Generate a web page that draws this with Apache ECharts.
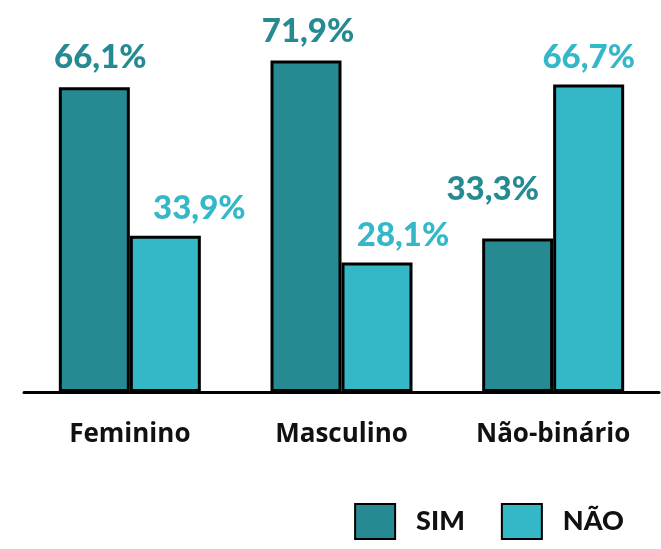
<!DOCTYPE html>
<html>
<head>
<meta charset="utf-8">
<script src="https://cdn.jsdelivr.net/npm/echarts@6/dist/echarts.min.js"></script>
<style>
  html, body { margin: 0; padding: 0; background: #fff; }
  #chart { width: 661px; height: 549px; }
</style>
</head>
<body>
<div id="chart"></div>
<script>
var categories = ['Feminino', 'Masculino', 'Não-binário'];
var simValues = [66.1, 71.9, 33.3];
var naoValues = [33.9, 28.1, 66.7];
// deslocamento dos rótulos em relação ao centro da barra
var simOffsets = [[6, 0], [2, 0], [-25, -20]];
var naoOffsets = [[34, 0], [26, 0], [0, 0]];

var chart = echarts.init(document.getElementById('chart'));

function fmt(v) {
  return v.toFixed(1).replace('.', ',') + '%';
}

function buildData(values, offsets) {
  return values.map(function (v, i) {
    return { value: v, label: { offset: offsets[i] } };
  });
}

var labelFont = 'Lato';

var option = {
  animation: false,
  grid: { left: 24, right: 2, top: 0, bottom: 157 },
  legend: {
    data: ['SIM', 'NÃO'],
    icon: 'rect',
    right: 32,
    bottom: 4,
    itemWidth: 40,
    itemHeight: 35,
    itemGap: 36,
    textStyle: { fontFamily: labelFont, fontWeight: 900, fontSize: 27, color: '#111', padding: [0, 0, 0, 16] }
  },
  xAxis: {
    type: 'category',
    data: categories,
    axisLine: { lineStyle: { color: '#000', width: 3 } },
    axisTick: { show: false },
    axisLabel: {
      interval: 0,
      margin: 30,
      color: '#111',
      fontFamily: 'Open Sans',
      fontWeight: 'bold',
      fontSize: 26
    }
  },
  yAxis: {
    type: 'value',
    min: 0,
    max: 85,
    show: false
  },
  series: [
    {
      name: 'SIM',
      type: 'bar',
      barWidth: 71,
      barGap: '0%',
      data: buildData(simValues, simOffsets),
      itemStyle: { color: '#268a93', borderColor: '#000', borderWidth: 3 },
      label: {
        show: true,
        position: 'top',
        distance: 13,
        formatter: function (p) { return fmt(p.value); },
        color: '#268a93',
        fontFamily: labelFont,
        fontWeight: 900,
        fontSize: 33
      }
    },
    {
      name: 'NÃO',
      type: 'bar',
      barWidth: 71,
      data: buildData(naoValues, naoOffsets),
      itemStyle: { color: '#34b8c8', borderColor: '#000', borderWidth: 3 },
      label: {
        show: true,
        position: 'top',
        distance: 11,
        formatter: function (p) { return fmt(p.value); },
        color: '#34b8c8',
        fontFamily: labelFont,
        fontWeight: 900,
        fontSize: 33
      }
    }
  ]
};

chart.setOption(option);
</script>
</body>
</html>
